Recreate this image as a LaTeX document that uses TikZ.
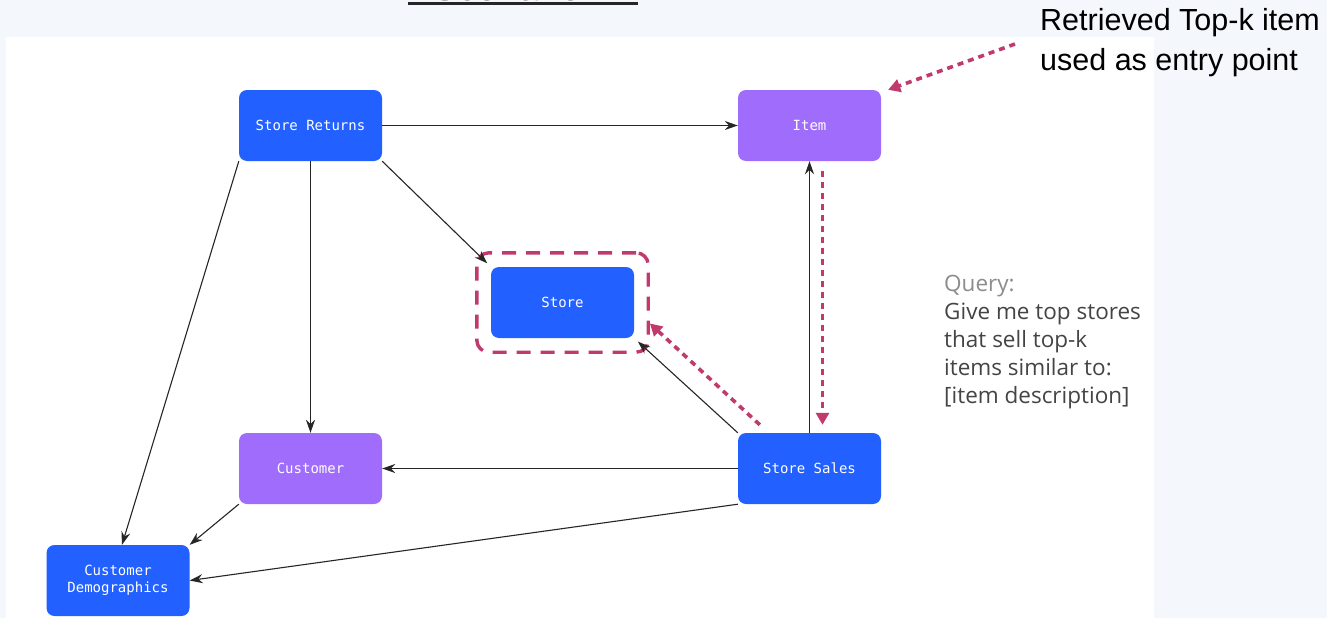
\documentclass[tikz,border=0pt]{standalone}
\usepackage{fontspec}
\setmainfont{Liberation Sans}
\newfontfamily\monofont{DejaVu Sans Mono}
\newfontfamily\notefont{Open Sans}
\usetikzlibrary{arrows.meta,fit}
\definecolor{pagebg}{HTML}{F4F7FB}
\definecolor{tblue}{HTML}{2260FF}
\definecolor{tpurple}{HTML}{A06CFB}
\definecolor{hilite}{HTML}{C13A6E}
\definecolor{notegrey}{HTML}{8C8C8C}
\definecolor{notedark}{HTML}{444444}
\begin{document}
\begin{tikzpicture}[x=1pt,y=-1pt,
  table/.style={rounded corners=8pt, minimum width=143pt, minimum height=71pt,
    text=white, font=\monofont\fontsize{14}{17}\selectfont, align=center, inner sep=0pt},
  fact/.style={table, fill=tblue},
  dim/.style={table, fill=tpurple},
  link/.style={-{Stealth[length=13pt,width=9pt]}, line width=1.1pt, black!85},
  hint/.style={-{Triangle[length=12pt,width=13pt]}, line width=3.6pt, hilite,
    dash pattern=on 6pt off 5pt}]

% page and panel
\useasboundingbox (0,0) rectangle (1327,618);
\fill[pagebg] (0,0) rectangle (1327,618);
\fill[white] (6,37) rectangle (1154,618);

% heading, mostly above the page edge
\node[anchor=base, font=\fontsize{38}{44}\selectfont, text=black!85, inner sep=0pt] (title) at (523,1) {Scenario 1};
\draw[line width=2.2pt, black!85] (408,3.5) -- (638,3.5);

% tables
\node[fact] (sr)    at (310.5,125.5) {Store Returns};
\node[dim]  (item)  at (809.5,125.5) {Item};
\node[fact] (store) at (562.5,302.5) {Store};
\node[dim]  (cust)  at (310.5,468.5) {Customer};
\node[fact] (ss)    at (809.5,468.5) {Store Sales};
\node[fact] (cd)    at (118,580.5)   {Customer\\Demographics};

% target of the query
\node[fit=(store), inner sep=14pt, draw=hilite, line width=3.4pt,
  rounded corners=12pt, dash pattern=on 14pt off 10pt] (frame) {};

% foreign-key links
\draw[link] (sr.east) -- (item.west);
\draw[link] (sr.south) -- (cust.north);
\draw[link, shorten >=5pt] (sr.south east) -- (store.north west);
\draw[link] (sr.south west) -- ([xshift=4pt]cd.north);
\draw[link] (ss.north) -- (item.south);
\draw[link, shorten >=5pt] (ss.north west) -- (store.south east);
\draw[link] (ss.west) -- (cust.east);
\draw[link] (cust.south west) -- (cd.north east);
\draw[link] (ss.south west) -- (cd.east);

% retrieval path
\coordinate (entry) at (1015,44);
\draw[hint] (entry) -- ([xshift=7pt]item.north east);
\draw[hint] ([xshift=13pt,yshift=-10pt]item.south) -- ([xshift=13pt,yshift=8pt]ss.north);
\draw[hint] ([xshift=22pt,yshift=8pt]ss.north west) -- ([yshift=-21pt]frame.east);

% notes
\node[anchor=north west, align=left, inner sep=0pt, font=\fontsize{30.5}{40}\selectfont]
  (retrieved) at (1040,8) {Retrieved Top-k item\\used as entry point};
\node[anchor=north west, align=left, inner sep=0pt, text=notedark,
  font=\notefont\fontsize{22.5}{28}\selectfont]
  (query) at (944,275) {\textcolor{notegrey}{Query:}\\Give me top stores\\that sell top-k\\items similar to:\\{}[item description]};
\end{tikzpicture}
\end{document}
